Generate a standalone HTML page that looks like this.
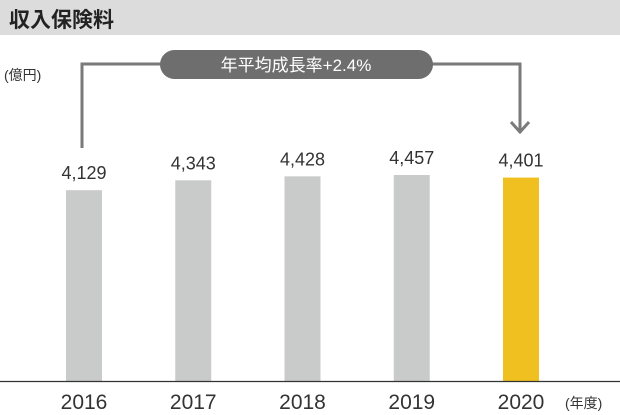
<!DOCTYPE html>
<html><head><meta charset="utf-8"><style>
body{margin:0;background:#fff;}
svg{display:block;font-family:"Liberation Sans","Noto Sans CJK JP",sans-serif;}
</style></head><body>
<svg width="620" height="415">
<rect x="0" y="0" width="620" height="35" fill="#dcdcdc"/>
<text x="9" y="27" font-size="21" font-weight="bold" fill="#222">収入保険料</text>
<text x="4" y="80" font-size="14" fill="#333">(億円)</text>
<path d="M82,148 V64 H520 V130" fill="none" stroke="#7a7a7a" stroke-width="3"/>
<path d="M511,122 L520,132 L529,122" fill="none" stroke="#7a7a7a" stroke-width="3"/>
<rect x="160" y="50" width="273" height="29" rx="14.5" fill="#6e6e6e"/>
<text x="296" y="71" font-size="17" fill="#fff" text-anchor="middle">年平均成長率+2.4%</text>
<g id="bars"></g>
<line x1="0" y1="381.5" x2="620" y2="381.5" stroke="#333" stroke-width="1.2"/>
<text x="565" y="408" font-size="14" fill="#333">(年度)</text>
</svg>
<script>
const categories = ["2016","2017","2018","2019","2020"];
const values = [4129,4343,4428,4457,4401];
const valueLabels = ["4,129","4,343","4,428","4,457","4,401"];
const ns="http://www.w3.org/2000/svg";
const g=document.getElementById("bars");
const baseY=381, scale=206/4457, x0=84, step=109.25, bw=36;
function xPos(i){return x0+i*step;}
function yPos(v){return baseY-v*scale;}
categories.forEach((c,i)=>{
  const cx=xPos(i), top=yPos(values[i]);
  const r=document.createElementNS(ns,"rect");
  r.setAttribute("x",cx-bw/2);r.setAttribute("y",top);
  r.setAttribute("width",bw);r.setAttribute("height",baseY-top);
  r.setAttribute("fill",i===categories.length-1?"#f0c020":"#c9cbcb");
  
  
  g.appendChild(r);
  const t=document.createElementNS(ns,"text");
  t.setAttribute("x",cx);t.setAttribute("y",top-11);
  t.setAttribute("text-anchor","middle");t.setAttribute("font-size","18");t.setAttribute("fill","#333");
  t.textContent=valueLabels[i];
  
  
  g.appendChild(t);
  const y=document.createElementNS(ns,"text");
  y.setAttribute("x",cx);y.setAttribute("y",409);
  y.setAttribute("text-anchor","middle");y.setAttribute("font-size","21");y.setAttribute("fill","#333");
  y.textContent=c;
  
  
  g.appendChild(y);
});
</script>
</body></html>
